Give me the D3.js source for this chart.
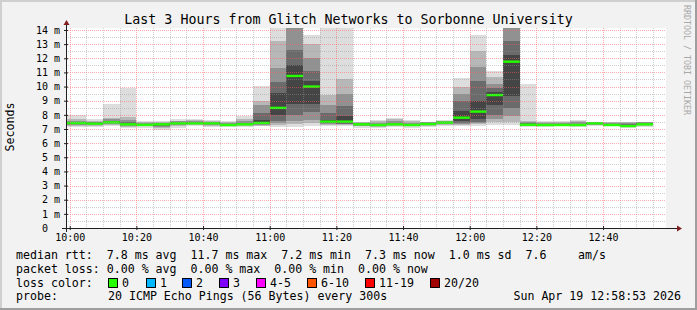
<!DOCTYPE html>
<html>
<head>
<meta charset="utf-8">
<script src="https://cdn.jsdelivr.net/npm/d3@7"></script>
<style>
  html, body { margin: 0; padding: 0; background: #fff; }
  svg { display: block; }
  text { font-family: "DejaVu Sans Mono", monospace; fill: #000; white-space: pre; }
</style>
</head>
<body>
<div id="chart"></div>
<script>
const W = 697, H = 310;

// time window of the graph
const day = "2026-04-19";
const startTime = "09:58:53";
const endTime = "12:58:53";
const yMax = 14.14;

// 5 minute slots (start of each step)
const slots = ["09:55","10:00","10:05","10:10","10:15","10:20","10:25","10:30","10:35","10:40","10:45","10:50",
  "10:55","11:00","11:05","11:10","11:15","11:20","11:25","11:30","11:35","11:40","11:45","11:50",
  "11:55","12:00","12:05","12:10","12:15","12:20","12:25","12:30","12:35","12:40","12:45","12:50"];

// sorted ping ranks (ms), read from the smoke
const ping1  = [7.16,7.16,7.14,7.23,7.05,7.10,6.93,7.05,7.23,7.16,7.16,7.16,7.18,7.15,7.15,7.20,7.20,7.20,7.10,7.05,7.16,7.10,7.16,7.23,7.23,7.23,7.30,7.25,7.15,7.16,7.20,7.16,7.20,7.20,7.10,7.16];
const ping3  = [7.22,7.22,7.22,7.30,7.15,7.18,7.05,7.18,7.28,7.24,7.20,7.22,7.24,7.30,7.35,7.40,7.28,7.28,7.18,7.15,7.22,7.18,7.22,7.30,7.30,7.33,7.50,7.50,7.20,7.21,7.23,7.21,7.26,7.23,7.14,7.22];
const ping5  = [7.28,7.28,7.28,7.36,7.22,7.22,7.15,7.26,7.32,7.30,7.23,7.26,7.28,7.40,7.60,7.65,7.35,7.33,7.24,7.21,7.26,7.22,7.27,7.35,7.38,7.40,7.70,7.90,7.24,7.24,7.25,7.24,7.30,7.25,7.17,7.26];
const ping7  = [7.33,7.33,7.32,7.40,7.27,7.25,7.22,7.32,7.36,7.34,7.25,7.29,7.33,7.55,8.00,8.20,7.40,7.38,7.28,7.25,7.29,7.25,7.30,7.39,7.45,7.50,8.00,8.50,7.27,7.26,7.26,7.26,7.34,7.26,7.19,7.29];
const ping9  = [7.38,7.38,7.36,7.44,7.31,7.27,7.28,7.37,7.38,7.38,7.27,7.31,7.38,8.00,8.80,8.80,7.45,7.42,7.31,7.27,7.31,7.27,7.33,7.42,7.60,7.70,8.70,9.30,7.29,7.27,7.27,7.27,7.37,7.27,7.20,7.31];
const median = [7.42,7.42,7.38,7.47,7.33,7.29,7.33,7.40,7.40,7.40,7.28,7.33,7.43,8.49,10.75,10.00,7.52,7.52,7.33,7.28,7.33,7.28,7.35,7.45,7.80,8.23,9.40,11.76,7.30,7.28,7.28,7.28,7.40,7.28,7.21,7.33];
const ping12 = [7.47,7.47,7.42,7.52,7.40,7.32,7.36,7.44,7.44,7.43,7.31,7.37,7.65,9.55,11.50,10.40,7.65,7.90,7.36,7.31,7.37,7.31,7.38,7.48,8.30,9.00,9.60,12.20,7.36,7.31,7.31,7.32,7.42,7.31,7.25,7.37];
const ping14 = [7.52,7.52,7.46,7.58,7.50,7.36,7.40,7.48,7.48,7.47,7.35,7.45,8.10,10.30,12.60,11.10,8.10,8.60,7.40,7.36,7.45,7.36,7.42,7.52,9.00,10.40,9.90,13.20,7.42,7.36,7.36,7.38,7.44,7.35,7.32,7.42];
const ping16 = [7.58,7.58,7.52,7.68,7.62,7.42,7.45,7.53,7.54,7.52,7.40,7.55,8.70,11.34,14.50,12.00,8.70,9.50,7.44,7.44,7.55,7.44,7.46,7.56,9.50,11.40,10.20,14.50,7.50,7.42,7.42,7.46,7.47,7.40,7.40,7.46];
const ping18 = [7.70,7.70,7.60,7.78,7.85,7.50,7.50,7.60,7.62,7.58,7.48,7.70,9.00,13.22,15.00,13.00,9.40,10.50,7.48,7.54,7.68,7.54,7.50,7.60,10.00,12.50,10.70,15.00,7.60,7.50,7.50,7.55,7.50,7.46,7.46,7.50];
const ping20 = [8.00,8.00,7.68,8.77,9.90,7.57,7.57,7.68,7.68,7.64,7.57,7.94,10.04,14.12,16.00,13.65,14.50,14.30,7.52,7.64,7.80,7.64,7.52,7.64,10.63,13.65,11.10,16.00,10.16,7.57,7.57,7.64,7.52,7.50,7.50,7.52];

// axes
const xTickLabels = ["10:00","10:20","10:40","11:00","11:20","11:40","12:00","12:20","12:40"];
const yTickValues = [0,1,2,3,4,5,6,7,8,9,10,11,12,13,14];
const yTickLabels = ["0  ","1 m","2 m","3 m","4 m","5 m","6 m","7 m","8 m","9 m","10 m","11 m","12 m","13 m","14 m"];

// legend
const title = "Last 3 Hours from Glitch Networks to Sorbonne University";
const rttLine = "median rtt:  7.8 ms avg  11.7 ms max  7.2 ms min  7.3 ms now  1.0 ms sd  7.6";
const rttUnit = "am/s";
const lossLine = "packet loss: 0.00 % avg  0.00 % max  0.00 % min  0.00 % now";
const lossColorNames = ["0","1","2","3","4-5","6-10","11-19","20/20"];
const lossColors = ["#26ff00","#00b8ff","#0059ff","#7e00ff","#ff00ff","#ff5500","#ff0000","#a10000"];
const probeText = "20 ICMP Echo Pings (56 Bytes) every 300s";
const stampText = "Sun Apr 19 12:58:53 2026";

const parse = d3.timeParse("%Y-%m-%d %H:%M:%S");
const parseHM = s => parse(day + " " + s + ":00");

const svg = d3.select("#chart").append("svg")
  .attr("width", W).attr("height", H);

// background + 3d frame
svg.append("rect").attr("width", W).attr("height", H).attr("fill", "#f2f2f2");
svg.append("path").attr("d", `M0,${H} V0 H${W}`).attr("fill", "none")
  .attr("stroke", "#cfcfcf").attr("stroke-width", 4);
svg.append("path").attr("d", `M0,${H} H${W} V0`).attr("fill", "none")
  .attr("stroke", "#9e9e9e").attr("stroke-width", 4);

const x0 = 66, x1 = 666, yTop = 28, yBot = 228;
const x = d3.scaleTime()
  .domain([parse(day + " " + startTime), parse(day + " " + endTime)])
  .range([x0, x1]);
const y = d3.scaleLinear().domain([0, yMax]).range([yBot, yTop]);

svg.append("rect").attr("x", x0).attr("y", yTop)
  .attr("width", x1 - x0).attr("height", yBot - yTop).attr("fill", "#fff");

svg.append("clipPath").attr("id", "plot")
  .append("rect").attr("x", x0).attr("y", yTop).attr("width", x1 - x0).attr("height", yBot - yTop);

const cols = slots.map((s, i) => ({
  t0: parseHM(s),
  t1: d3.timeMinute.offset(parseHM(s), 5),
  i
}));

// smoke: outer to inner bands
const bands = [
  [ping1, ping20, "#dddddd"],
  [ping3, ping18, "#b7b7b7"],
  [ping5, ping16, "#919191"],
  [ping7, ping14, "#6b6b6b"],
  [ping9, ping12, "#454545"]
];

const g = svg.append("g").attr("clip-path", "url(#plot)");
bands.forEach(([lo, hi, color]) => {
  g.append("g").selectAll("rect").data(cols).join("rect")
    .attr("x", d => x(d.t0))
    .attr("width", d => x(d.t1) - x(d.t0))
    .attr("y", d => y(hi[d.i]))
    .attr("height", d => y(lo[d.i]) - y(hi[d.i]))
    .attr("fill", color)
    .attr("shape-rendering", "crispEdges");
});

// median (loss 0 colour)
g.append("g").selectAll("rect").data(cols).join("rect")
  .attr("x", d => x(d.t0))
  .attr("width", d => x(d.t1) - x(d.t0))
  .attr("y", d => y(median[d.i]) - 1.2)
  .attr("height", 2.4)
  .attr("fill", lossColors[0]);

// grid on top, semi transparent, dotted
const grid = svg.append("g").attr("stroke-dasharray", "1,1").attr("shape-rendering", "crispEdges");
const minorT = d3.timeMinute.every(5).range(x.domain()[0], x.domain()[1]);
const majorT = xTickLabels.map(parseHM);
const isMajor = t => majorT.some(m => +m === +t);
grid.selectAll("line.vx").data(minorT).join("line")
  .attr("x1", d => Math.round(x(d)) + 0.5).attr("x2", d => Math.round(x(d)) + 0.5)
  .attr("y1", yTop).attr("y2", yBot)
  .attr("stroke", d => isMajor(d) ? "rgba(255,90,90,0.5)" : "rgba(150,150,150,0.45)");
const yMinor = d3.range(0.5, yMax, 0.5);
grid.selectAll("line.hy").data(yMinor).join("line")
  .attr("x1", x0).attr("x2", x1)
  .attr("y1", d => Math.round(y(d)) + 0.5).attr("y2", d => Math.round(y(d)) + 0.5)
  .attr("stroke", d => Number.isInteger(d) ? "rgba(255,90,90,0.5)" : "rgba(150,150,150,0.45)");

// axes
const axisColor = "#1f1f1f", arrowColor = "#801f1f";
const xAxis = svg.append("g").attr("transform", `translate(0,${yBot})`)
  .call(d3.axisBottom(x).tickValues(majorT).tickFormat(d3.timeFormat("%H:%M"))
    .tickSizeInner(2).tickSizeOuter(0).tickPadding(3.5));
xAxis.select(".domain").remove();
xAxis.selectAll("line").attr("stroke", axisColor).attr("y1", -2);
xAxis.selectAll("text").style("font-size", "10px").attr("font-family", null);

const yAxis = svg.append("g").attr("transform", `translate(${x0},0)`)
  .call(d3.axisLeft(y).tickValues(yTickValues).tickFormat((d, i) => yTickLabels[i])
    .tickSizeInner(2).tickSizeOuter(0).tickPadding(4));
yAxis.select(".domain").remove();
yAxis.selectAll("line").attr("stroke", axisColor).attr("x1", 2);
yAxis.selectAll("text").style("font-size", "10px").attr("font-family", null);

svg.append("line").attr("x1", 62).attr("x2", 677).attr("y1", yBot + 0.5).attr("y2", yBot + 0.5)
  .attr("stroke", axisColor);
svg.append("line").attr("x1", x0 + 0.5).attr("x2", x0 + 0.5).attr("y1", yBot + 4).attr("y2", 24)
  .attr("stroke", axisColor);
svg.append("path").attr("d", `M677,${yBot - 2.5} L682,${yBot + 0.5} L677,${yBot + 3.5} Z`).attr("fill", arrowColor);
svg.append("path").attr("d", `M${x0 - 2.5},25 L${x0 + 0.5},20 L${x0 + 3.5},25 Z`).attr("fill", arrowColor);

// titles
svg.append("text").attr("x", W / 2).attr("y", 24).attr("text-anchor", "middle")
  .style("font-size", "13.3px").text(title);
svg.append("text").attr("transform", "translate(14,127) rotate(-90)").attr("text-anchor", "middle")
  .style("font-size", "11.6px").text("Seconds");
svg.append("text").attr("transform", "translate(684,5) rotate(90)")
  .style("font-size", "8.3px").style("fill", "#a8a8a8").text("RRDTOOL / TOBI OETIKER");

// legend
const lf = "11.6px";
svg.append("text").attr("x", 16).attr("y", 258.5).style("font-size", lf).text(rttLine);
svg.append("text").attr("x", 578).attr("y", 258.5).style("font-size", lf).text(rttUnit);
svg.append("text").attr("x", 16).attr("y", 272.5).style("font-size", lf).text(lossLine);
svg.append("text").attr("x", 16).attr("y", 286.5).style("font-size", lf).text("loss color:");
const boxX = [108, 146, 182, 219, 256, 307, 365, 430];
const lc = svg.append("g").selectAll("g").data(lossColorNames).join("g");
lc.append("rect").attr("x", (d, i) => boxX[i] + 0.5).attr("y", 278.5).attr("width", 9).attr("height", 9)
  .attr("fill", (d, i) => lossColors[i]).attr("stroke", "#000").attr("stroke-width", 1);
lc.append("text").attr("x", (d, i) => boxX[i] + 14).attr("y", 286.5).style("font-size", lf).text(d => d);
svg.append("text").attr("x", 16).attr("y", 300).style("font-size", lf).text("probe:");
svg.append("text").attr("x", 108).attr("y", 300).style("font-size", lf).text(probeText);
svg.append("text").attr("x", 681).attr("y", 300).attr("text-anchor", "end").style("font-size", lf).text(stampText);
</script>
</body>
</html>
